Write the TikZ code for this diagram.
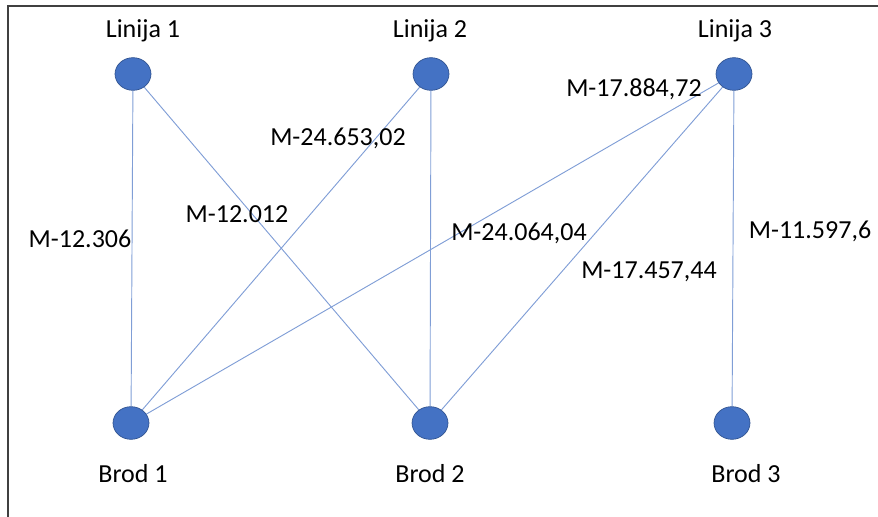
\documentclass[tikz,border=0pt]{standalone}
\usepackage{fontspec}
\setmainfont{Carlito}
\usetikzlibrary{shapes.geometric}
\definecolor{stopfill}{RGB}{68,114,196}
\definecolor{stopline}{RGB}{47,82,143}
\definecolor{linkcol}{RGB}{128,158,214}
\begin{document}
\begin{tikzpicture}[x=0.75pt, y=-0.75pt,
  stop/.style={ellipse, draw=stopline, fill=stopfill, line width=0.5pt, minimum width=27pt, minimum height=24.5pt, inner sep=0pt},
  lbl/.style={anchor=base, inner sep=0pt, font=\fontsize{19.5}{22}\selectfont},
  link/.style={draw=linkcol, line width=0.7pt}]
  \useasboundingbox (0,0) rectangle (878,517);
  \draw[line width=1.1pt, black!75] (8,517) -- (8,6) -- (878,6);
  \node[stop] (l1) at (133,74) {};
  \node[stop] (l2) at (431,74) {};
  \node[stop] (l3) at (734,74) {};
  \node[stop] (b1) at (131,423) {};
  \node[stop] (b2) at (430,423) {};
  \node[stop] (b3) at (732,423) {};
  \node[lbl] (t1) at (143,38) {Linija 1};
  \node[lbl] (t2) at (430,38) {Linija 2};
  \node[lbl] (t3) at (735,38) {Linija 3};
  \node[lbl] (s1) at (133,482) {Brod 1};
  \node[lbl] (s2) at (430,482) {Brod 2};
  \node[lbl] (s3) at (746,482) {Brod 3};
  \draw[link] (l1) -- (b1);
  \draw[link] (l1) -- (b2);
  \draw[link] (l2) -- (b1);
  \draw[link] (l2) -- (b2);
  \draw[link] (l3) -- (b1);
  \draw[link] (l3) -- (b2);
  \draw[link] (l3) -- (b3);
  \node[lbl] (m1) at (80,247) {M-12.306};
  \node[lbl] (m2) at (237,222) {M-12.012};
  \node[lbl] (m3) at (338,145) {M-24.653,02};
  \node[lbl] (m4) at (634,97) {M-17.884,72};
  \node[lbl] (m5) at (519,240) {M-24.064,04};
  \node[lbl] (m6) at (649,278) {M-17.457,44};
  \node[lbl] (m7) at (810,238) {M-11.597,6};
\end{tikzpicture}
\end{document}
